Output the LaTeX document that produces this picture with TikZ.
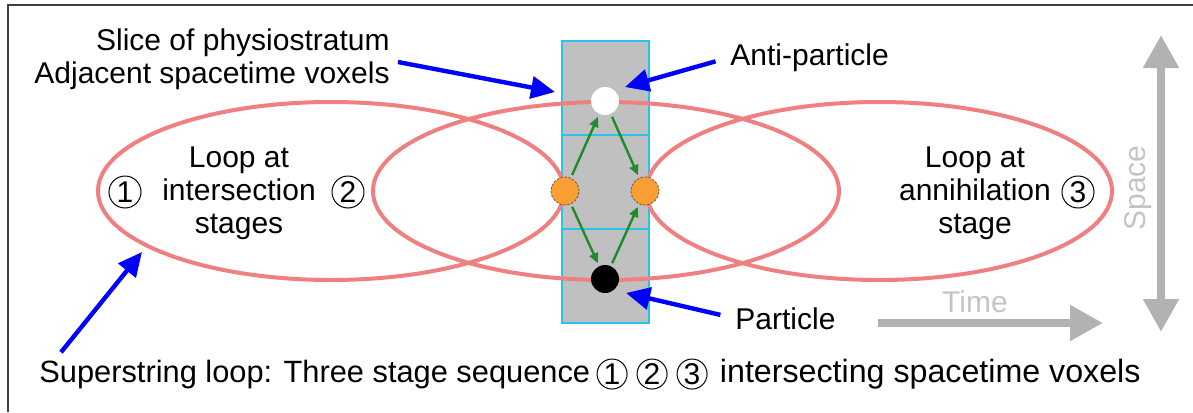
\documentclass[tikz,border=0pt]{standalone}
\usepackage{fontspec}
\setmainfont{Liberation Sans}
\usetikzlibrary{arrows.meta,positioning}
\definecolor{voxgray}{RGB}{192,192,192}
\definecolor{voxedge}{RGB}{40,195,235}
\definecolor{loopred}{RGB}{240,128,128}
\definecolor{dotorange}{RGB}{248,158,50}
\definecolor{flowgreen}{RGB}{30,140,45}
\definecolor{axisgray}{RGB}{178,178,178}
\definecolor{axistext}{RGB}{196,196,196}
\tikzset{voxel/.style={draw=voxedge,line width=1pt,fill=voxgray,minimum width=43.5pt,minimum height=47pt,inner sep=0pt,outer sep=0pt}}
\tikzset{particle/.style={circle,inner sep=0pt,minimum size=14pt}}
\tikzset{lbl/.style={inner sep=0pt,font=\fontsize{15}{16.5}\selectfont}}
\tikzset{stagenum/.style={circle,draw=black,line width=0.5pt,inner sep=0pt,minimum size=16pt,font=\fontsize{15}{16.5}\selectfont}}

\begin{document}
\begin{tikzpicture}[x=0.5pt, y=-0.5pt, node distance=0pt]
    \tikzstyle{pointer}=[-{Triangle[length=12pt,width=11pt]},draw=blue,line width=2.2pt]
    \tikzstyle{flow}=[-{Triangle[length=5pt,width=4.5pt]},draw=flowgreen,line width=1.2pt,shorten <=1.5pt,shorten >=1.5pt]
    \tikzstyle{loopline}=[draw=loopred,line width=2pt]
    \tikzstyle{axisarrow}=[draw=axisgray,line width=4pt]
    \useasboundingbox (0,0) rectangle (1193,412);
    \draw[line width=1.1pt,draw=black!75] (8,412) |- (1193,5);

    % slice of physiostratum
    \node[voxel] (V1) at (605.5,88) {};
    \node[voxel,below=of V1] (V2) {};
    \node[voxel,below=of V2] (V3) {};

    % loops
    \draw[loopline] (331,191) ellipse [x radius=233, y radius=89];
    \draw[loopline] (606,191) ellipse [x radius=233, y radius=89];
    \draw[loopline] (879,191) ellipse [x radius=233, y radius=89];

    % particles
    \node[particle,fill=white] (W) at (605,101) {};
    \node[particle,fill=black] (K) at (605,279) {};
    \node[particle,fill=dotorange,draw=black!65,line width=0.4pt,dash pattern=on 1.2pt off 0.8pt] (OL) at (565,191) {};
    \node[particle,fill=dotorange,draw=black!65,line width=0.4pt,dash pattern=on 1.2pt off 0.8pt] (OR) at (645,191) {};
    \draw[flow] (OL) -- (W);
    \draw[flow] (W) -- (OR);
    \draw[flow] (OL) -- (K);
    \draw[flow] (K) -- (OR);

    % labels
    \node[lbl,align=right,anchor=east] (S) at (390,59) {Slice of physiostratum\\Adjacent spacetime voxels};
    \node[lbl,anchor=base west] (A) at (730,65) {Anti-particle};
    \node[lbl,anchor=base west] (P) at (735,329) {Particle};
    \node[lbl,align=center] (L1) at (239,193) {Loop at\\intersection\\stages};
    \node[lbl,align=center] (L3) at (975,193) {Loop at\\annihilation\\stage};
    \node[stagenum] (N1) at (125,192) {1};
    \node[stagenum] (N2) at (348,192) {2};
    \node[stagenum] (N3) at (1078,192) {3};

    % caption
    \node[lbl,anchor=base west,font=\fontsize{15.4}{18}\selectfont] (C) at (39,382) {Superstring loop: Three stage sequence};
    \node[stagenum,minimum size=15pt,right=3pt of C] (C1) {1};
    \node[stagenum,minimum size=15pt,right=4.5pt of C1] (C2) {2};
    \node[stagenum,minimum size=15pt,right=4.5pt of C2] (C3) {3};
    \node[lbl,font=\fontsize{16.1}{18}\selectfont,right=6pt of C3] (C4) {intersecting spacetime voxels};

    % blue pointers
    \coordinate (tipS) at (555,92);
    \coordinate (tipA) at (625,87);
    \coordinate (tipP) at (626,293);
    \coordinate (tipL) at (142,252);
    \draw[pointer] ([shift={(8,3)}]S.east) -- (tipS);
    \draw[pointer,shorten <=7.5pt] (A.west) -- (tipA);
    \draw[pointer,shorten <=7.5pt] (P.west) -- (tipP);
    \draw[pointer] ([shift={(22,-7)}]C.north west) -- (tipL);

    % space and time
    \coordinate (S1) at (1161,35);
    \coordinate (S2) at (1161,332);
    \draw[axisarrow,{Triangle[length=16.5pt,width=17pt]}-{Triangle[length=16.5pt,width=17pt]}] (S1) -- (S2);
    \node[lbl,rotate=90,text=axistext] (SP) at (1138,188) {Space};
    \coordinate (T1) at (878,323);
    \coordinate (T2) at (1103,323);
    \draw[axisarrow,-{Triangle[length=16.5pt,width=17pt]}] (T1) -- (T2);
    \node[lbl,anchor=base,text=axistext] (TM) at (975,312) {Time};
\end{tikzpicture}
\end{document}
